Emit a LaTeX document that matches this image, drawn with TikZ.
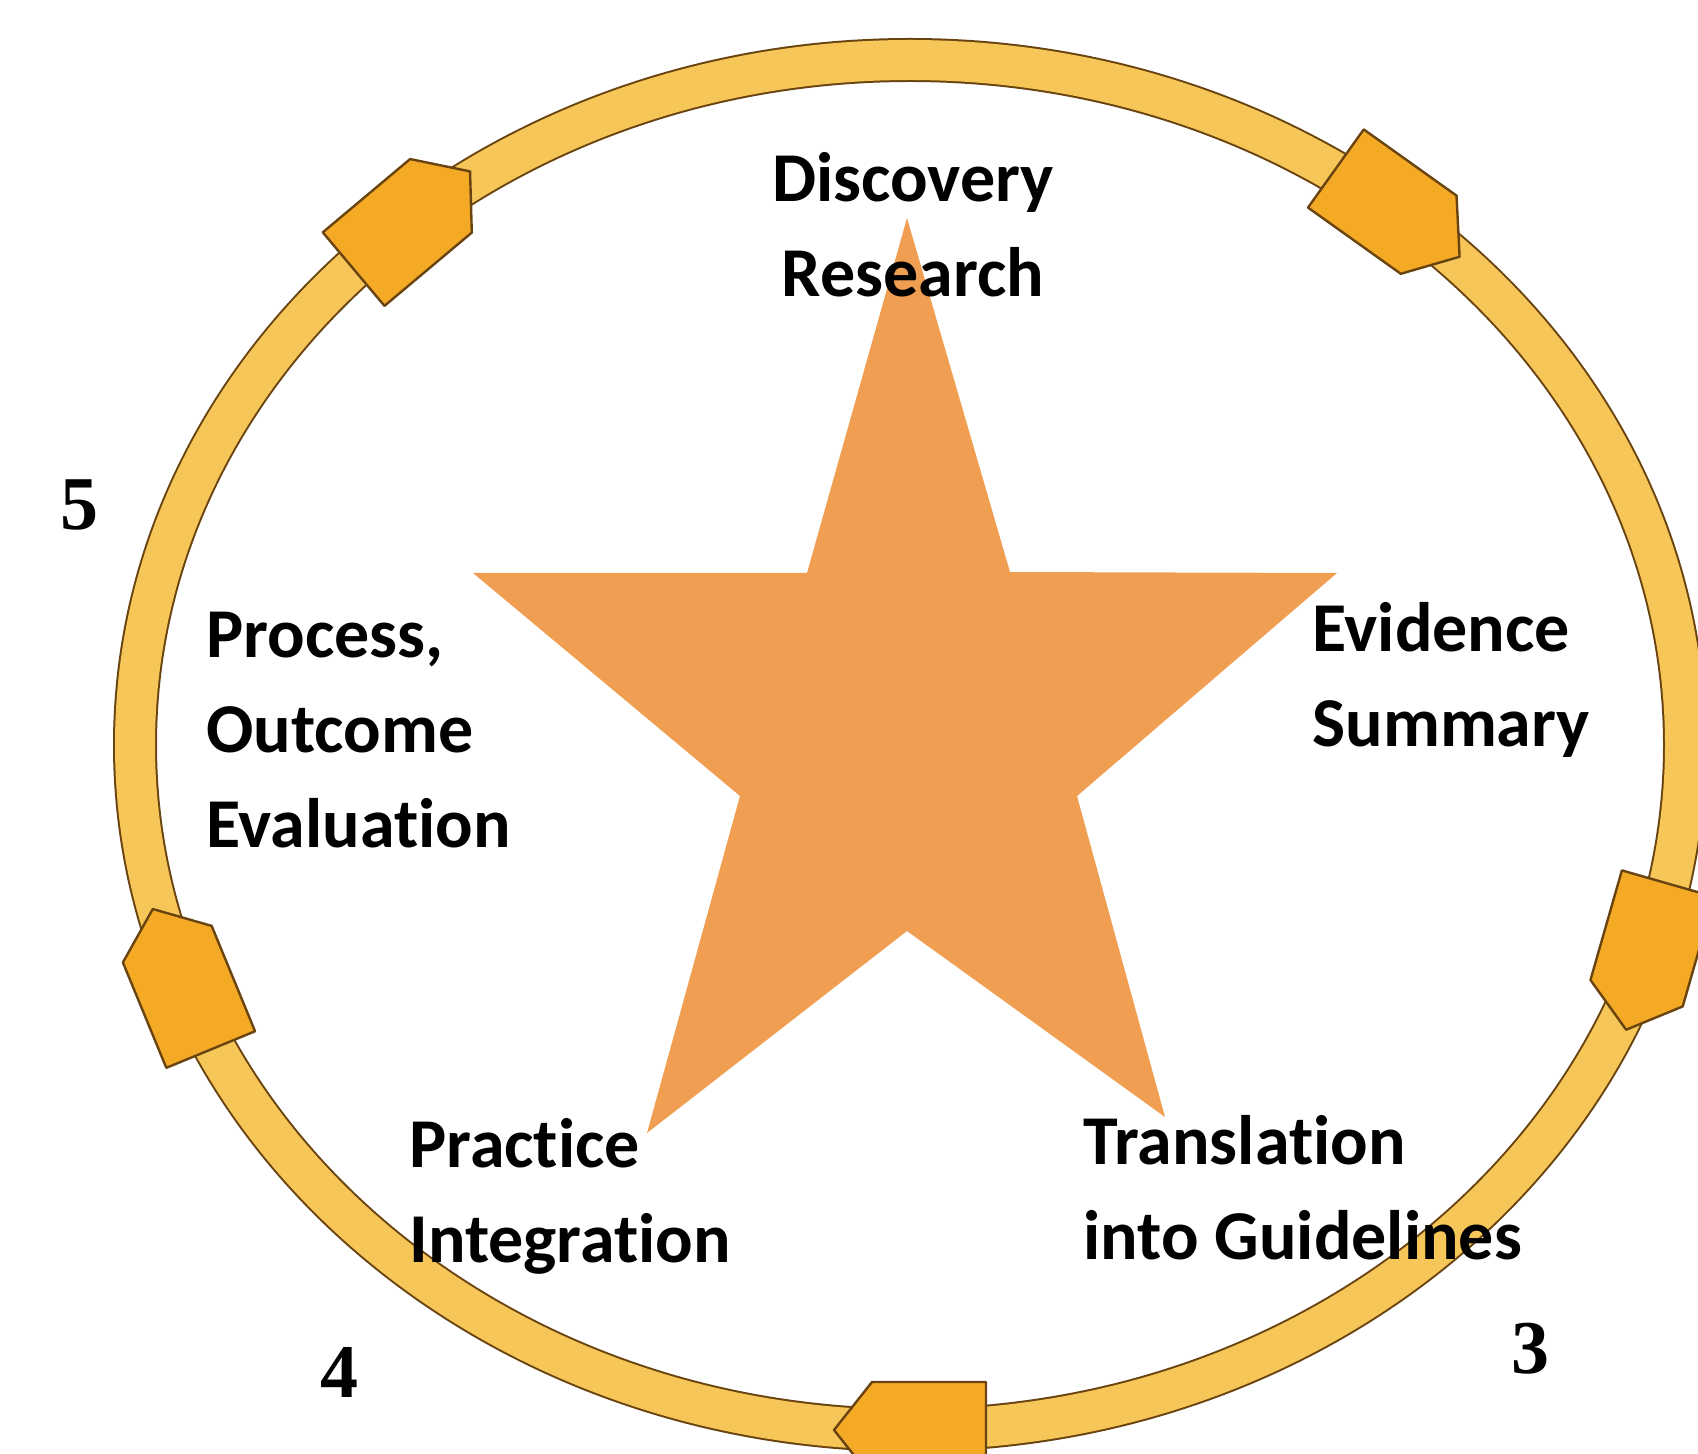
\documentclass[tikz,border=0pt]{standalone}
\usepackage{fontspec}
\newfontfamily\lblfont{Carlito}[Ligatures=NoCommon]
\newfontfamily\numfont{Liberation Serif}
\definecolor{ringfill}{RGB}{246,199,88}
\definecolor{ringline}{RGB}{105,68,16}
\definecolor{arrowfill}{RGB}{245,170,38}
\definecolor{starfill}{RGB}{240,158,82}
\tikzset{
  lbl/.style={inner sep=0pt, align=left, anchor=base west, text=black,
    font=\lblfont\bfseries\fontsize{35pt}{47.5pt}\selectfont},
  lblc/.style={lbl, align=center, anchor=base},
  num/.style={inner sep=0pt, anchor=base, text=black,
    font=\numfont\bfseries\fontsize{38pt}{40pt}\selectfont},
  ringarrow/.style={fill=arrowfill, draw=ringline, line width=1.2pt, line join=round}
}
\newcommand{\ringarrowat}[2]{%
  \begin{scope}[shift={(C)}]
  \begin{scope}[shift={(#1:387.5pt and 342.5pt)}, rotate=#2]
    \path[ringarrow] (-38pt,-24pt) -- (19pt,-24pt) -- (38pt,0pt) -- (19pt,24pt) -- (-38pt,24pt) -- cycle;
  \end{scope}
  \end{scope}}
\begin{document}
\begin{tikzpicture}[x=0.5pt,y=0.5pt]
\useasboundingbox (0,0) rectangle (1698,1453);
\clip (0,0) rectangle (1698,1453);
\fill[white] (0,0) rectangle (1698,1453);
\coordinate (C) at (910,708);
% ring
\draw[line width=22pt, draw=ringline] (C) ellipse [x radius=387.5pt, y radius=342.5pt];
\draw[line width=20pt, draw=ringfill] (C) ellipse [x radius=387.5pt, y radius=342.5pt];
% arrows on the ring (clockwise)
\ringarrowat{130}{40}
\ringarrowat{51}{-35.5}
\ringarrowat{-18}{-106}
\ringarrowat{270}{180}
\ringarrowat{200}{112.4}
% star
\fill[starfill] (907,1235) -- (1010,881) -- (1337,880) -- (1077,657) -- (1165,336)
  -- (907,522) -- (647,320) -- (740,657) -- (473,880) -- (807,880) -- cycle;
% labels (anchor on the baseline of the last line)
\node[lblc] (discovery) at (913,1156) {Discovery\\Research};
\node[lbl] (evidence) at (1312,706) {Evidence\\Summary};
\node[lbl] (translation) at (1083,194) {Translation\\into Guidelines};
\node[lbl] (practice) at (409,191) {Practice\\Integration};
\node[lbl] (process) at (206,605) {Process,\\Outcome\\Evaluation};
% numbers
\node[num] (n5) at (79,923) {5};
\node[num] (n4) at (339,56) {4};
\node[num] (n3) at (1530,80) {3};
\end{tikzpicture}
\end{document}
